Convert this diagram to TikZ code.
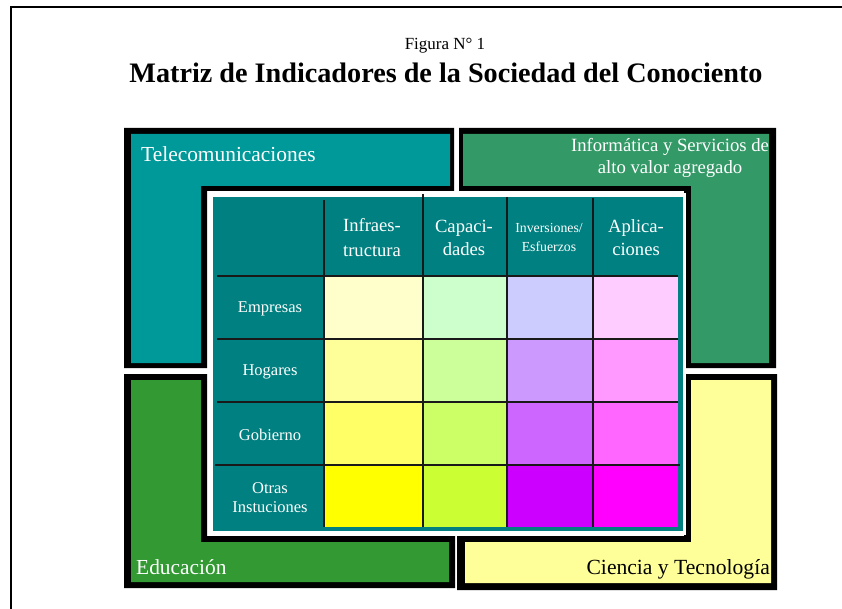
\documentclass[tikz,border=0pt]{standalone}
\usepackage{fontspec}
\setmainfont{Liberation Serif}
\definecolor{telec}{HTML}{009999}
\definecolor{infor}{HTML}{339966}
\definecolor{educ}{HTML}{339933}
\definecolor{cienc}{HTML}{FFFF99}
\definecolor{tabteal}{HTML}{008080}
\definecolor{cA1}{HTML}{FFFFCC}\definecolor{cA2}{HTML}{CCFFCC}\definecolor{cA3}{HTML}{CCCCFF}\definecolor{cA4}{HTML}{FFCCFF}
\definecolor{cB1}{HTML}{FFFF99}\definecolor{cB2}{HTML}{CCFF99}\definecolor{cB3}{HTML}{CC99FF}\definecolor{cB4}{HTML}{FF99FF}
\definecolor{cC1}{HTML}{FFFF66}\definecolor{cC2}{HTML}{CCFF66}\definecolor{cC3}{HTML}{CC66FF}\definecolor{cC4}{HTML}{FF66FF}
\definecolor{cD1}{HTML}{FFFF00}\definecolor{cD2}{HTML}{CCFF33}\definecolor{cD3}{HTML}{CC00FF}\definecolor{cD4}{HTML}{FF00FF}
\tikzset{
  lbl/.style={inner sep=0pt, text=white},
  hdr/.style={inner sep=0pt, text=white, align=center, font=\fontsize{18.6}{23}\selectfont},
  rowlbl/.style={inner sep=0pt, text=white, align=center, font=\fontsize{16.5}{19}\selectfont},
  gridline/.style={draw=black!90, line width=1.2pt},
}
\begin{document}
\begin{tikzpicture}[x=1pt,y=-1pt]
\useasboundingbox (0,0) rectangle (842,609);
\fill[white] (0,0) rectangle (842,609);
% page frame
\draw[line width=1.5pt] (842,7) -- (11,7) -- (11,609);
% titles
\node[inner sep=0pt, anchor=base, font=\fontsize{17}{20}\selectfont] (fig) at (445,50) {Figura N° 1};
\node[inner sep=0pt, anchor=base, font=\bfseries\fontsize{28.2}{30}\selectfont] (title) at (446,83) {Matriz de Indicadores de la Sociedad del Conociento};
% Telecomunicaciones L
\fill[black] (124,128) -- (454,128) -- (454,191) -- (207,191) -- (207,368) -- (124,368) -- cycle;
\fill[telec] (131,134) -- (450,134) -- (450,186) -- (201,186) -- (201,363) -- (131,363) -- cycle;
% Informatica L
\fill[black] (459,128) -- (776,128) -- (776,368) -- (684,368) -- (684,191) -- (459,191) -- cycle;
\fill[infor] (463,134) -- (769,134) -- (769,363) -- (691,363) -- (691,186) -- (463,186) -- cycle;
% Educacion L
\fill[black] (124,374) -- (207,374) -- (207,536) -- (455,536) -- (455,588) -- (124,588) -- cycle;
\fill[educ] (131,380) -- (201,380) -- (201,542) -- (449,542) -- (449,582) -- (131,582) -- cycle;
% Ciencia L
\fill[black] (684,374) -- (777,374) -- (777,590) -- (457,590) -- (457,536) -- (684,536) -- cycle;
\fill[cienc] (691,380) -- (771,380) -- (771,583) -- (465,583) -- (465,542) -- (691,542) -- cycle;
% labels of L shapes
\node[lbl, anchor=base west, font=\fontsize{21.4}{24}\selectfont] (tel) at (141,162) {Telecomunicaciones};
\node[lbl, anchor=base, font=\fontsize{18.7}{22}\selectfont] (inf1) at (670,152) {Informática y Servicios de};
\node[lbl, anchor=base, font=\fontsize{18.7}{22}\selectfont] (inf2) at (670,174) {alto valor agregado};
\node[lbl, anchor=base west, font=\fontsize{21.4}{24}\selectfont] (edu) at (136,574) {Educación};
\node[inner sep=0pt, anchor=base east, text=black, font=\fontsize{21.6}{24}\selectfont] (cyt) at (770,574) {Ciencia y Tecnología};
% table
\fill[white] (208,193) rectangle (686,535);
\fill[tabteal] (213,197) rectangle (683,531);
% cells
\foreach \r/\ya/\yb in {A/276/339,B/339/402,C/402/465,D/465/527}{
  \foreach \c/\xa/\xb in {1/324/423,2/423/507,3/507/593,4/593/678}{
    \fill[c\r\c] (\xa,\ya) rectangle (\xb,\yb);
  }
}
% grid lines
\draw[gridline] (324,200) -- (324,527);
\draw[gridline] (423,194) -- (423,527);
\draw[gridline] (507,197) -- (507,527);
\draw[gridline] (593,198) -- (593,527);
\draw[gridline] (217,276) -- (678,276);
\draw[gridline] (217,339) -- (678,339);
\draw[gridline] (217,402) -- (678,402);
\draw[gridline] (215,465) -- (680,465);
% headers
\node[hdr] (h1) at (372,238) {Infraes-\\[2pt]tructura};
\node[hdr] (h2) at (464,238) {Capaci-\\dades};
\node[hdr, font=\fontsize{13.8}{19}\selectfont] (h3) at (549,237.5) {Inversiones/\\Esfuerzos};
\node[hdr] (h4) at (636,237.5) {Aplica-\\ciones};
% row labels
\node[rowlbl] (r1) at (270,309) {Empresas};
\node[rowlbl] (r2) at (270,372) {Hogares};
\node[rowlbl] (r3) at (270,435) {Gobierno};
\node[rowlbl] (r4) at (270,497.5) {Otras\\Instuciones};
\end{tikzpicture}
\end{document}
